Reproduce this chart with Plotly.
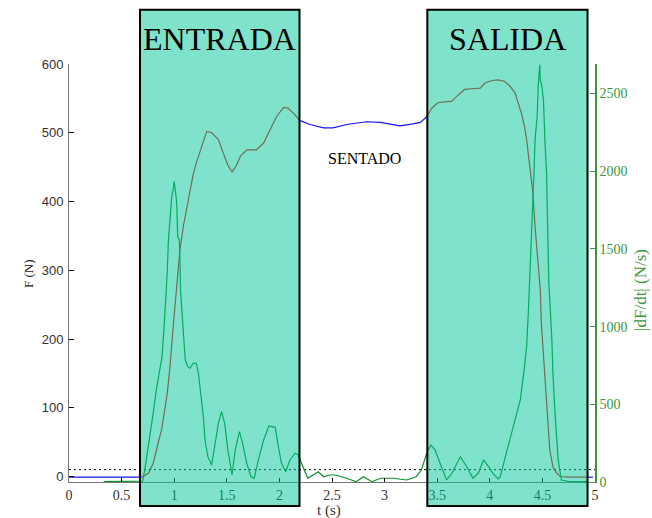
import plotly.graph_objects as go

# Force F(t) during the sit-to-stand test, seconds / newtons
t_force = [0.0, 0.3, 0.675, 0.706, 0.756, 0.80, 0.846, 0.88, 0.91, 0.934, 0.957, 0.97, 0.988,
           1.004, 1.02, 1.04, 1.055, 1.087, 1.119, 1.15, 1.18, 1.214, 1.23, 1.27, 1.309, 1.357,
           1.42, 1.467, 1.51, 1.55, 1.59, 1.63, 1.69, 1.78, 1.85, 1.91, 1.975, 2.04, 2.08, 2.15,
           2.191, 2.29, 2.42, 2.51, 2.64, 2.83, 2.96, 3.05, 3.146, 3.27, 3.34, 3.406, 3.45, 3.51,
           3.57, 3.64, 3.70, 3.76, 3.83, 3.91, 3.95, 4.02, 4.08, 4.14, 4.19, 4.24, 4.27, 4.30,
           4.33, 4.35, 4.38, 4.41, 4.43, 4.456, 4.48, 4.49, 4.51, 4.53, 4.55, 4.57, 4.60, 4.635,
           4.67, 4.75, 4.929, 4.98]
force = [-1, -1, -1, 0, 5, 19, 48, 68, 97, 121, 155, 184, 213,
         242, 271, 301, 330, 364, 388, 413, 439, 458, 466, 485, 502, 500,
         490, 470, 453, 443, 452, 466, 475, 475, 485, 504, 524, 537, 536, 526,
         518, 512, 507, 507, 512, 516, 515, 513, 510, 513, 515, 524, 536, 544,
         545, 546, 555, 563, 564, 565, 572, 576, 577, 575, 568, 558, 543, 529,
         509, 490, 451, 412, 364, 315, 271, 223, 174, 126, 77, 39, 14, 5,
         0, -1, -1, -1]

# Magnitude of the force derivative |dF/dt|, N/s
t_deriv = [0.33, 0.5, 0.70, 0.72, 0.75, 0.78, 0.80, 0.83, 0.86, 0.884, 0.90, 0.916, 0.925,
           0.935, 0.945, 0.96, 0.976, 0.99, 1.0, 1.014, 1.024, 1.033, 1.049, 1.055, 1.06, 1.077,
           1.10, 1.105, 1.13, 1.15, 1.18, 1.21, 1.23, 1.25, 1.277, 1.293, 1.32, 1.356, 1.39,
           1.42, 1.45, 1.48, 1.51, 1.55, 1.58, 1.62, 1.65, 1.69, 1.73, 1.76, 1.80, 1.85, 1.90,
           1.96, 1.99, 2.02, 2.06, 2.10, 2.15, 2.18, 2.21, 2.27, 2.37, 2.42, 2.48, 2.53, 2.64,
           2.73, 2.80, 2.88, 2.96, 3.08, 3.21, 3.30, 3.35, 3.40, 3.44, 3.48, 3.54, 3.59, 3.64,
           3.72, 3.78, 3.84, 3.89, 3.94, 3.99, 4.03, 4.08, 4.10, 4.14, 4.19, 4.24, 4.29, 4.33,
           4.35, 4.366, 4.38, 4.40, 4.42, 4.43, 4.45, 4.46, 4.47, 4.475, 4.48, 4.495, 4.51,
           4.515, 4.525, 4.54, 4.55, 4.56, 4.59, 4.60, 4.62, 4.635, 4.65, 4.68, 4.75, 4.93]
deriv = [3, 3, 5, 77, 206, 335, 442, 592, 721, 806, 957, 1107, 1240,
         1365, 1558, 1686, 1836, 1880, 1933, 1858, 1794, 1579, 1558, 1429, 1236, 1064,
         850, 785, 742, 732, 764, 764, 700, 571, 420, 270, 163, 109, 270,
         378, 453, 378, 206, 45, 206, 324, 249, 120, 34, 24, 142, 270, 360,
         352, 227, 120, 66, 142, 185, 174, 120, 24, 66, 34, 45, 45, 24,
         2, 34, 2, 24, 24, 13, 34, 77, 185, 238, 206, 98, 13, 56,
         163, 98, 24, 56, 142, 98, 56, 20, 34, 142, 270, 399, 528, 742,
         871, 1086, 1300, 1600, 1987, 2201, 2351, 2545, 2673, 2685, 2588, 2545, 2459,
         2351, 2180, 1987, 1600, 1300, 914, 700, 442, 270, 142, 13, 3, 2]

# Phases of the movement (start, end in seconds) and their labels
phase_names = ["ENTRADA", "SALIDA"]
phase_start = [0.675, 3.406]
phase_end = [2.191, 4.929]
seated_label = "SENTADO"
seated_pos = (2.81, 463)

# Force threshold marked with a dotted line
threshold = 10

x_ticks = [0, 0.5, 1, 1.5, 2, 2.5, 3, 3.5, 4, 4.5, 5]
x_tick_text = ["0", "0.5", "1", "1.5", "2", "2.5", "3", "3.5", "4", "4.5", "5"]
f_ticks = [0, 100, 200, 300, 400, 500, 600]
d_ticks = [0, 500, 1000, 1500, 2000, 2500]

BLUE = "rgb(20,20,235)"
RED = "rgb(225,20,20)"
GREEN = "rgb(10,145,45)"
AXIS_GREEN = "rgb(60,150,60)"
SERIF = "Liberation Serif"


def in_phase(t):
    return any(s <= t <= e for s, e in zip(phase_start, phase_end))


def on_edge(t):
    return any(abs(t - b) < 1e-9 for b in phase_start + phase_end)


# Force: red inside a phase, blue while standing still / seated
f_in = [f if in_phase(t) else None for t, f in zip(t_force, force)]
f_out = [f if (not in_phase(t) or on_edge(t)) else None for t, f in zip(t_force, force)]

fig = go.Figure()
fig.add_trace(go.Scatter(x=t_force, y=f_out, mode="lines", line=dict(color=BLUE, width=1.2),
                         connectgaps=False, showlegend=False, hoverinfo="skip"))
fig.add_trace(go.Scatter(x=t_force, y=f_in, mode="lines", line=dict(color=RED, width=1.2),
                         connectgaps=False, showlegend=False, hoverinfo="skip"))
fig.add_trace(go.Scatter(x=[0, 5], y=[threshold, threshold], mode="lines",
                         line=dict(color="black", width=1, dash="2px,3px"),
                         showlegend=False, hoverinfo="skip"))
fig.add_trace(go.Scatter(x=t_deriv, y=deriv, mode="lines", yaxis="y2",
                         line=dict(color=GREEN, width=1.2), showlegend=False, hoverinfo="skip"))

# Shaded phase boxes, reaching above and below the plotting area
for name, s, e in zip(phase_names, phase_start, phase_end):
    fig.add_shape(type="rect", xref="x", yref="paper", x0=s, x1=e, y0=-0.0575, y1=1.13,
                  fillcolor="rgba(0,197,149,0.5)", line=dict(color="black", width=2),
                  layer="above")
    fig.add_annotation(xref="x", yref="paper", x=(s + e) / 2, y=1.06, text=name,
                       showarrow=False, font=dict(family=SERIF, size=32, color="black"),
                       xanchor="center", yanchor="middle")

fig.add_annotation(xref="x", yref="y", x=seated_pos[0], y=seated_pos[1], text=seated_label,
                   showarrow=False, font=dict(family=SERIF, size=16, color="black"))

# Axis titles
fig.add_annotation(xref="paper", yref="paper", x=-0.078, y=0.5, text="F (N)", textangle=-90,
                   showarrow=False, xanchor="center", yanchor="middle",
                   font=dict(family=SERIF, size=13, color="#222"))
fig.add_annotation(xref="paper", yref="paper", x=0.494, y=-0.068, text="t (s)",
                   showarrow=False, xanchor="center", yanchor="middle",
                   font=dict(family=SERIF, size=15, color="#333"))
fig.add_annotation(xref="paper", yref="paper", x=1.086, y=0.46, text="|dF/dt| (N/s)",
                   textangle=-90, showarrow=False, xanchor="center", yanchor="middle",
                   font=dict(family=SERIF, size=17, color=AXIS_GREEN))

fig.update_layout(
    width=652, height=518,
    margin=dict(l=69, r=57, t=64, b=36),
    paper_bgcolor="white", plot_bgcolor="white",
    xaxis=dict(range=[0, 5], tickvals=x_ticks, ticktext=x_tick_text, showgrid=False,
               zeroline=False, showline=True, linecolor="#777", linewidth=1,
               ticks="inside", ticklen=4, tickcolor="black",
               tickfont=dict(family=SERIF, size=14, color="#333")),
    yaxis=dict(range=[-8, 600], tickvals=f_ticks, showgrid=False, zeroline=False,
               showline=True, linecolor="#777", linewidth=1, ticks="inside", ticklen=5,
               tickcolor="black", ticklabelstandoff=2,
               tickfont=dict(family="Liberation Sans", size=13, color="#333")),
    yaxis2=dict(range=[0, 2690], tickvals=d_ticks, overlaying="y", side="right",
                showgrid=False, zeroline=False, showline=True, linecolor=AXIS_GREEN,
                linewidth=1.5, ticks="inside", ticklen=5, tickcolor=AXIS_GREEN,
                tickfont=dict(family=SERIF, size=14, color=AXIS_GREEN)),
)

fig.write_html("out.html")
